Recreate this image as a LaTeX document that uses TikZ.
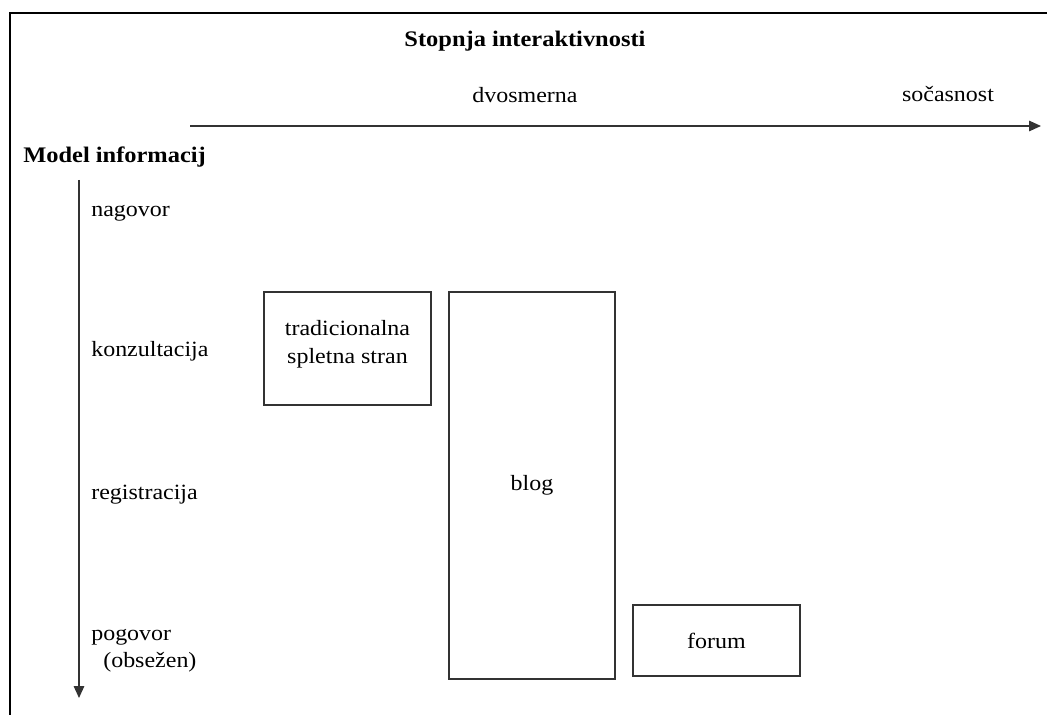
\documentclass[tikz,border=0pt]{standalone}
\usepackage{fontspec}
\setmainfont{Liberation Serif}[FakeStretch=1.1]
\usetikzlibrary{arrows.meta}

\begin{document}
\begin{tikzpicture}[x=0.025cm,y=-0.025cm,>={Triangle[length=8.5pt,width=7.5pt]},
		every node/.style={font=\fontsize{15.5}{19.8}\selectfont},
		lbl/.style={anchor=base west,inner sep=0pt},
		ttl/.style={font=\fontsize{15.8}{19.8}\selectfont\bfseries,inner sep=0pt},
		box/.style={draw=black!80,line width=0.9pt,align=center,inner sep=0pt},
		axis/.style={->,draw=black!80,line width=0.9pt}]
		
		\useasboundingbox (0,0) rectangle (1047,715);
		
		% Frame (left and top edge only)
		\draw[line width=2.1pt] (10,715) -- (10,13) -- (1047,13);
		
		% Horizontal axis: stopnja interaktivnosti
		\node[ttl,anchor=base] (stopnja) at (525,47) {Stopnja interaktivnosti};
		\node[anchor=base,inner sep=0pt] (dvosmerna) at (525,103) {dvosmerna};
		\node[anchor=base,inner sep=0pt] (socasnost) at (948,102) {sočasnost};
		\coordinate (hstart) at (190,126);
		\coordinate (hend) at (1041,126);
		\draw[axis] (hstart) -- (hend);
		
		% Vertical axis: model informacij
		\node[ttl,anchor=base west] (model) at (23,163) {Model informacij};
		\coordinate (vstart) at (79,180);
		\coordinate (vend) at (79,698);
		\draw[axis] (vstart) -- (vend);
		\node[lbl] (nagovor) at (91,217) {nagovor};
		\node[lbl] (konzultacija) at (91,357) {konzultacija};
		\node[lbl] (registracija) at (91,499) {registracija};
		\node[lbl] (pogovor) at (91,640) {pogovor};
		\node[lbl] (obsezen) at (103,667) {(obsežen)};
		
		% Boxes
		\node[box,minimum width=4.175cm,minimum height=2.825cm] (trad) at (347.5,348.5) {};
		\node[align=center] (tradtxt) at (347.5,344) {tradicionalna\\spletna stran};
		\node[box,minimum width=4.15cm,minimum height=9.675cm] (blog) at (532,485.5) {blog};
		\node[box,minimum width=4.175cm,minimum height=1.775cm] (forum) at (716.5,640.5) {forum};
		
	\end{tikzpicture}
\end{document}
